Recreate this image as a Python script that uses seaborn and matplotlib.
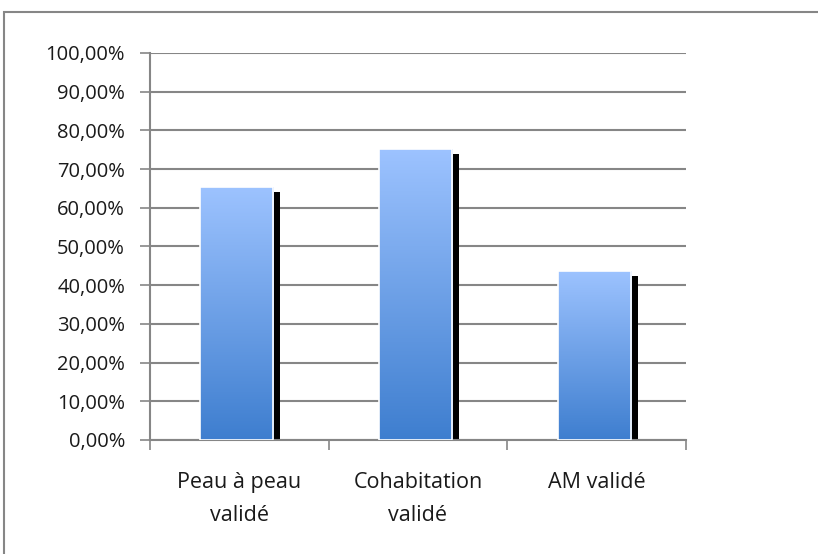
import numpy as np
import matplotlib
matplotlib.use('Agg')
import matplotlib.pyplot as plt
import matplotlib.transforms as mtransforms
from matplotlib.colors import LinearSegmentedColormap
from matplotlib.patches import Rectangle
import seaborn as sns

categories = ['Peau à peau\nvalidé', 'Cohabitation\nvalidé', 'AM validé']
values = [0.654, 0.752, 0.437]
ytick_values = [i / 10 for i in range(11)]
ytick_labels = ['{:.2f}%'.format(v * 100).replace('.', ',') for v in ytick_values]

sns.set_style('white')
plt.rcParams['font.family'] = ['Open Sans', 'DejaVu Sans']

fig = plt.figure(figsize=(8.18, 5.54), dpi=100)
ax = fig.add_axes([150 / 818, 1 - 440 / 554, 536 / 818, 387 / 554])

sns.barplot(x=categories, y=values, width=0.41, ax=ax, color='#6a9be6')

grey = '#868686'
cmap = LinearSegmentedColormap.from_list('bar', ['#3e7ecf', '#9dc3ff'])
grad = np.linspace(0, 1, 256).reshape(-1, 1)
left = mtransforms.ScaledTranslation(-0.025, 0, fig.dpi_scale_trans)
shift = mtransforms.ScaledTranslation(0.045, -0.055, fig.dpi_scale_trans)

for p in list(ax.patches):
    x0, w, h = p.get_x(), p.get_width(), p.get_height()
    # black drop shadow behind the bar
    sh = Rectangle((x0, 0), w, h, facecolor='black', edgecolor='none',
                   transform=ax.transData + shift, zorder=2)
    ax.add_patch(sh)
    p.set_transform(ax.transData + left)
    p.set_facecolor('none')
    p.set_edgecolor('white')
    p.set_linewidth(1.2)
    p.set_zorder(4)
    im = ax.imshow(grad, extent=[x0, x0 + w, 0, h], origin='lower', cmap=cmap,
                   aspect='auto', zorder=3)
    im.set_transform(ax.transData + left)
    im.set_clip_path(p)

ax.set_xlim(-0.5, 2.5)
ax.set_ylim(0, 1)
ax.set_yticks(ytick_values)
ax.set_yticklabels(ytick_labels, fontsize=14.5, color='#1a1a1a')
ax.yaxis.grid(True, color=grey, linewidth=1.5)
ax.set_axisbelow(True)

ax.set_xticks([0, 1, 2])
ax.set_xticklabels(categories, fontsize=15.5, linespacing=1.75, color='#1a1a1a')
ax.set_xticks([-0.5, 0.5, 1.5, 2.5], minor=True)
ax.tick_params(axis='x', which='major', length=0, pad=23)
ax.tick_params(axis='x', which='minor', length=7, width=1.2, color=grey, direction='out', bottom=True)
ax.tick_params(axis='y', length=7, width=1.2, color=grey, direction='out', left=True, pad=11)

for side in ['top', 'right']:
    ax.spines[side].set_visible(False)
for side in ['left', 'bottom']:
    ax.spines[side].set_color(grey)
    ax.spines[side].set_linewidth(1.5)

# outer chart border
fig.patches.append(Rectangle((4 / 818, -0.1), 1.2, 1 - 12 / 554 + 0.1, fill=False,
                             edgecolor=grey, linewidth=1.5, transform=fig.transFigure))

fig.savefig('out.png', dpi=100)
